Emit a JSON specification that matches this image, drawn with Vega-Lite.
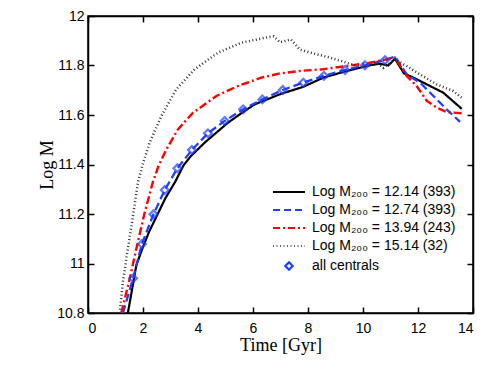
{
  "$schema": "https://vega.github.io/schema/vega-lite/v6.json",
  "width": 385,
  "height": 297,
  "autosize": {"type": "none"},
  "padding": {"left": 88, "top": 16, "right": 18, "bottom": 56},
  "background": "white",
  "config": {
    "view": {"stroke": "black", "strokeWidth": 1.5},
    "font": "Liberation Sans",
    "axis": {"labelFont": "Liberation Sans", "labelFontSize": 14, "labelColor": "black", "domainColor": "black", "tickColor": "black", "grid": false, "domainWidth": 1.5, "tickWidth": 1.5}
  },
  "datasets": {
    "curves": [
      {"s": "Log M₂₀₀ = 12.14 (393)", "t": 1.45, "v": 10.8},
      {"s": "Log M₂₀₀ = 12.14 (393)", "t": 1.61, "v": 10.9},
      {"s": "Log M₂₀₀ = 12.14 (393)", "t": 1.76, "v": 10.994},
      {"s": "Log M₂₀₀ = 12.14 (393)", "t": 1.98, "v": 11.061},
      {"s": "Log M₂₀₀ = 12.14 (393)", "t": 2.22, "v": 11.128},
      {"s": "Log M₂₀₀ = 12.14 (393)", "t": 2.81, "v": 11.263},
      {"s": "Log M₂₀₀ = 12.14 (393)", "t": 3.17, "v": 11.33},
      {"s": "Log M₂₀₀ = 12.14 (393)", "t": 3.47, "v": 11.396},
      {"s": "Log M₂₀₀ = 12.14 (393)", "t": 3.74, "v": 11.434},
      {"s": "Log M₂₀₀ = 12.14 (393)", "t": 4.24, "v": 11.488},
      {"s": "Log M₂₀₀ = 12.14 (393)", "t": 4.67, "v": 11.529},
      {"s": "Log M₂₀₀ = 12.14 (393)", "t": 5.09, "v": 11.569},
      {"s": "Log M₂₀₀ = 12.14 (393)", "t": 5.6, "v": 11.609},
      {"s": "Log M₂₀₀ = 12.14 (393)", "t": 6.06, "v": 11.643},
      {"s": "Log M₂₀₀ = 12.14 (393)", "t": 6.98, "v": 11.684},
      {"s": "Log M₂₀₀ = 12.14 (393)", "t": 7.83, "v": 11.714},
      {"s": "Log M₂₀₀ = 12.14 (393)", "t": 8.56, "v": 11.751},
      {"s": "Log M₂₀₀ = 12.14 (393)", "t": 9.41, "v": 11.778},
      {"s": "Log M₂₀₀ = 12.14 (393)", "t": 10.25, "v": 11.801},
      {"s": "Log M₂₀₀ = 12.14 (393)", "t": 10.62, "v": 11.807},
      {"s": "Log M₂₀₀ = 12.14 (393)", "t": 10.92, "v": 11.8},
      {"s": "Log M₂₀₀ = 12.14 (393)", "t": 11.16, "v": 11.827},
      {"s": "Log M₂₀₀ = 12.14 (393)", "t": 11.49, "v": 11.768},
      {"s": "Log M₂₀₀ = 12.14 (393)", "t": 11.83, "v": 11.751},
      {"s": "Log M₂₀₀ = 12.14 (393)", "t": 12.44, "v": 11.717},
      {"s": "Log M₂₀₀ = 12.14 (393)", "t": 12.92, "v": 11.69},
      {"s": "Log M₂₀₀ = 12.14 (393)", "t": 13.59, "v": 11.625},

      {"s": "Log M₂₀₀ = 12.74 (393)", "t": 1.27, "v": 10.8},
      {"s": "Log M₂₀₀ = 12.74 (393)", "t": 1.64, "v": 10.94},
      {"s": "Log M₂₀₀ = 12.74 (393)", "t": 1.96, "v": 11.079},
      {"s": "Log M₂₀₀ = 12.74 (393)", "t": 2.38, "v": 11.199},
      {"s": "Log M₂₀₀ = 12.74 (393)", "t": 2.79, "v": 11.297},
      {"s": "Log M₂₀₀ = 12.74 (393)", "t": 3.25, "v": 11.385},
      {"s": "Log M₂₀₀ = 12.74 (393)", "t": 3.78, "v": 11.459},
      {"s": "Log M₂₀₀ = 12.74 (393)", "t": 4.36, "v": 11.526},
      {"s": "Log M₂₀₀ = 12.74 (393)", "t": 4.97, "v": 11.576},
      {"s": "Log M₂₀₀ = 12.74 (393)", "t": 5.64, "v": 11.623},
      {"s": "Log M₂₀₀ = 12.74 (393)", "t": 6.34, "v": 11.663},
      {"s": "Log M₂₀₀ = 12.74 (393)", "t": 7.08, "v": 11.701},
      {"s": "Log M₂₀₀ = 12.74 (393)", "t": 7.83, "v": 11.731},
      {"s": "Log M₂₀₀ = 12.74 (393)", "t": 8.58, "v": 11.758},
      {"s": "Log M₂₀₀ = 12.74 (393)", "t": 9.35, "v": 11.782},
      {"s": "Log M₂₀₀ = 12.74 (393)", "t": 10.07, "v": 11.801},
      {"s": "Log M₂₀₀ = 12.74 (393)", "t": 10.8, "v": 11.822},
      {"s": "Log M₂₀₀ = 12.74 (393)", "t": 11.16, "v": 11.836},
      {"s": "Log M₂₀₀ = 12.74 (393)", "t": 11.59, "v": 11.764},
      {"s": "Log M₂₀₀ = 12.74 (393)", "t": 12.07, "v": 11.731},
      {"s": "Log M₂₀₀ = 12.74 (393)", "t": 12.56, "v": 11.677},
      {"s": "Log M₂₀₀ = 12.74 (393)", "t": 13.04, "v": 11.623},
      {"s": "Log M₂₀₀ = 12.74 (393)", "t": 13.53, "v": 11.572},

      {"s": "Log M₂₀₀ = 13.94 (243)", "t": 1.21, "v": 10.8},
      {"s": "Log M₂₀₀ = 13.94 (243)", "t": 1.52, "v": 10.94},
      {"s": "Log M₂₀₀ = 13.94 (243)", "t": 1.76, "v": 11.061},
      {"s": "Log M₂₀₀ = 13.94 (243)", "t": 2.04, "v": 11.196},
      {"s": "Log M₂₀₀ = 13.94 (243)", "t": 2.36, "v": 11.33},
      {"s": "Log M₂₀₀ = 13.94 (243)", "t": 2.57, "v": 11.396},
      {"s": "Log M₂₀₀ = 13.94 (243)", "t": 2.85, "v": 11.461},
      {"s": "Log M₂₀₀ = 13.94 (243)", "t": 3.27, "v": 11.542},
      {"s": "Log M₂₀₀ = 13.94 (243)", "t": 3.82, "v": 11.609},
      {"s": "Log M₂₀₀ = 13.94 (243)", "t": 4.67, "v": 11.677},
      {"s": "Log M₂₀₀ = 13.94 (243)", "t": 5.45, "v": 11.717},
      {"s": "Log M₂₀₀ = 13.94 (243)", "t": 6.3, "v": 11.751},
      {"s": "Log M₂₀₀ = 13.94 (243)", "t": 6.98, "v": 11.768},
      {"s": "Log M₂₀₀ = 13.94 (243)", "t": 7.71, "v": 11.778},
      {"s": "Log M₂₀₀ = 13.94 (243)", "t": 8.56, "v": 11.785},
      {"s": "Log M₂₀₀ = 13.94 (243)", "t": 9.41, "v": 11.798},
      {"s": "Log M₂₀₀ = 13.94 (243)", "t": 10.25, "v": 11.811},
      {"s": "Log M₂₀₀ = 13.94 (243)", "t": 10.86, "v": 11.825},
      {"s": "Log M₂₀₀ = 13.94 (243)", "t": 11.16, "v": 11.832},
      {"s": "Log M₂₀₀ = 13.94 (243)", "t": 11.59, "v": 11.758},
      {"s": "Log M₂₀₀ = 13.94 (243)", "t": 11.95, "v": 11.717},
      {"s": "Log M₂₀₀ = 13.94 (243)", "t": 12.32, "v": 11.657},
      {"s": "Log M₂₀₀ = 13.94 (243)", "t": 12.68, "v": 11.63},
      {"s": "Log M₂₀₀ = 13.94 (243)", "t": 13.04, "v": 11.612},
      {"s": "Log M₂₀₀ = 13.94 (243)", "t": 13.59, "v": 11.607},

      {"s": "Log M₂₀₀ = 15.14 (32)", "t": 1.15, "v": 10.8},
      {"s": "Log M₂₀₀ = 15.14 (32)", "t": 1.27, "v": 10.926},
      {"s": "Log M₂₀₀ = 15.14 (32)", "t": 1.45, "v": 11.061},
      {"s": "Log M₂₀₀ = 15.14 (32)", "t": 1.64, "v": 11.196},
      {"s": "Log M₂₀₀ = 15.14 (32)", "t": 1.82, "v": 11.33},
      {"s": "Log M₂₀₀ = 15.14 (32)", "t": 2.0, "v": 11.405},
      {"s": "Log M₂₀₀ = 15.14 (32)", "t": 2.24, "v": 11.488},
      {"s": "Log M₂₀₀ = 15.14 (32)", "t": 2.67, "v": 11.596},
      {"s": "Log M₂₀₀ = 15.14 (32)", "t": 3.21, "v": 11.704},
      {"s": "Log M₂₀₀ = 15.14 (32)", "t": 3.88, "v": 11.785},
      {"s": "Log M₂₀₀ = 15.14 (32)", "t": 4.73, "v": 11.852},
      {"s": "Log M₂₀₀ = 15.14 (32)", "t": 5.58, "v": 11.892},
      {"s": "Log M₂₀₀ = 15.14 (32)", "t": 6.42, "v": 11.912},
      {"s": "Log M₂₀₀ = 15.14 (32)", "t": 6.75, "v": 11.918},
      {"s": "Log M₂₀₀ = 15.14 (32)", "t": 6.98, "v": 11.894},
      {"s": "Log M₂₀₀ = 15.14 (32)", "t": 7.38, "v": 11.905},
      {"s": "Log M₂₀₀ = 15.14 (32)", "t": 7.71, "v": 11.864},
      {"s": "Log M₂₀₀ = 15.14 (32)", "t": 8.19, "v": 11.849},
      {"s": "Log M₂₀₀ = 15.14 (32)", "t": 8.8, "v": 11.832},
      {"s": "Log M₂₀₀ = 15.14 (32)", "t": 9.41, "v": 11.811},
      {"s": "Log M₂₀₀ = 15.14 (32)", "t": 10.01, "v": 11.791},
      {"s": "Log M₂₀₀ = 15.14 (32)", "t": 10.5, "v": 11.811},
      {"s": "Log M₂₀₀ = 15.14 (32)", "t": 10.74, "v": 11.79},
      {"s": "Log M₂₀₀ = 15.14 (32)", "t": 11.16, "v": 11.825},
      {"s": "Log M₂₀₀ = 15.14 (32)", "t": 11.59, "v": 11.798},
      {"s": "Log M₂₀₀ = 15.14 (32)", "t": 12.07, "v": 11.764},
      {"s": "Log M₂₀₀ = 15.14 (32)", "t": 12.68, "v": 11.724},
      {"s": "Log M₂₀₀ = 15.14 (32)", "t": 13.28, "v": 11.697},
      {"s": "Log M₂₀₀ = 15.14 (32)", "t": 13.59, "v": 11.67}
    ],
    "centrals": [
      {"s": "all centrals", "t": 1.64, "v": 10.94},
      {"s": "all centrals", "t": 1.96, "v": 11.079},
      {"s": "all centrals", "t": 2.38, "v": 11.199},
      {"s": "all centrals", "t": 2.79, "v": 11.297},
      {"s": "all centrals", "t": 3.25, "v": 11.385},
      {"s": "all centrals", "t": 3.78, "v": 11.459},
      {"s": "all centrals", "t": 4.36, "v": 11.526},
      {"s": "all centrals", "t": 4.97, "v": 11.576},
      {"s": "all centrals", "t": 5.64, "v": 11.623},
      {"s": "all centrals", "t": 6.34, "v": 11.663},
      {"s": "all centrals", "t": 7.08, "v": 11.701},
      {"s": "all centrals", "t": 7.83, "v": 11.731},
      {"s": "all centrals", "t": 8.58, "v": 11.758},
      {"s": "all centrals", "t": 9.35, "v": 11.782},
      {"s": "all centrals", "t": 10.07, "v": 11.801},
      {"s": "all centrals", "t": 10.8, "v": 11.822}
    ]
  },
  "layer": [
    {
      "data": {"name": "curves"},
      "mark": {"type": "line", "clip": true, "strokeCap": "butt"},
      "encoding": {
        "x": {"field": "t", "type": "quantitative", "scale": {"domain": [0, 14], "nice": false, "zero": false},
          "axis": {"orient": "bottom", "values": [0, 2, 4, 6, 8, 10, 12, 14], "tickSize": -6, "labelPadding": 14, "title": "Time [Gyr]", "titleFont": "Liberation Serif", "titleFontSize": 18, "titleFontWeight": "normal", "titlePadding": 1, "titleColor": "black"}},
        "y": {"field": "v", "type": "quantitative", "scale": {"domain": [10.8, 12], "nice": false, "zero": false},
          "axis": {"orient": "left", "values": [10.8, 11, 11.2, 11.4, 11.6, 11.8, 12], "format": "~g", "tickSize": -6, "labelPadding": 10, "title": "Log M", "titleFont": "Liberation Serif", "titleFontSize": 18, "titleFontWeight": "normal", "titlePadding": 0, "titleColor": "black"}},
        "color": {"field": "s", "type": "nominal",
          "scale": {"domain": ["Log M₂₀₀ = 12.14 (393)", "Log M₂₀₀ = 12.74 (393)", "Log M₂₀₀ = 13.94 (243)", "Log M₂₀₀ = 15.14 (32)", "all centrals"],
                    "range": ["#000000", "#1f3fff", "#ff0000", "#333333", "#1f3fff"]},
          "legend": {"title": null, "orient": "none", "legendX": 194, "legendY": 169, "labelFont": "Liberation Sans", "labelFontSize": 14, "labelColor": "black", "symbolSize": 1024, "rowPadding": 4, "labelOffset": 16, "padding": 0,
            "encode": {"symbols": {"update": {
              "shape": {"signal": "datum.value === 'all centrals' ? 'diamond' : 'stroke'"},
              "size": {"signal": "datum.value === 'all centrals' ? 55 : 1024"},
              "fill": {"value": "transparent"},
              "fillOpacity": {"value": 0},
              "strokeWidth": {"signal": "datum.value === 'Log M₂₀₀ = 15.14 (32)' ? 1.5 : 2.2"},
              "strokeDash": {"signal": "datum.value === 'Log M₂₀₀ = 12.74 (393)' ? [7, 4] : (datum.value === 'Log M₂₀₀ = 13.94 (243)' ? [7, 3, 2, 3] : (datum.value === 'Log M₂₀₀ = 15.14 (32)' ? [1, 2.5] : [1, 0]))"}
            }}}}},
        "strokeDash": {"field": "s", "type": "nominal", "legend": null,
          "scale": {"domain": ["Log M₂₀₀ = 12.14 (393)", "Log M₂₀₀ = 12.74 (393)", "Log M₂₀₀ = 13.94 (243)", "Log M₂₀₀ = 15.14 (32)"],
                    "range": [[1, 0], [8, 4], [8, 3, 2, 3], [1, 2.5]]}},
        "strokeWidth": {"field": "s", "type": "nominal", "legend": null,
          "scale": {"domain": ["Log M₂₀₀ = 12.14 (393)", "Log M₂₀₀ = 12.74 (393)", "Log M₂₀₀ = 13.94 (243)", "Log M₂₀₀ = 15.14 (32)"],
                    "range": [2.2, 2.5, 2, 1.5]}}
      }
    },
    {
      "data": {"name": "centrals"},
      "mark": {"type": "point", "shape": "diamond", "filled": false, "size": 60, "strokeWidth": 2.2, "clip": true},
      "encoding": {
        "x": {"field": "t", "type": "quantitative", "axis": {"orient": "top", "values": [0, 2, 4, 6, 8, 10, 12, 14], "labels": false, "tickSize": -6, "title": null}},
        "y": {"field": "v", "type": "quantitative", "axis": {"orient": "right", "values": [10.8, 11, 11.2, 11.4, 11.6, 11.8, 12], "labels": false, "tickSize": -6, "title": null}},
        "color": {"field": "s", "type": "nominal"}
      }
    }
  ],
  "resolve": {"axis": {"x": "independent", "y": "independent"}}
}
